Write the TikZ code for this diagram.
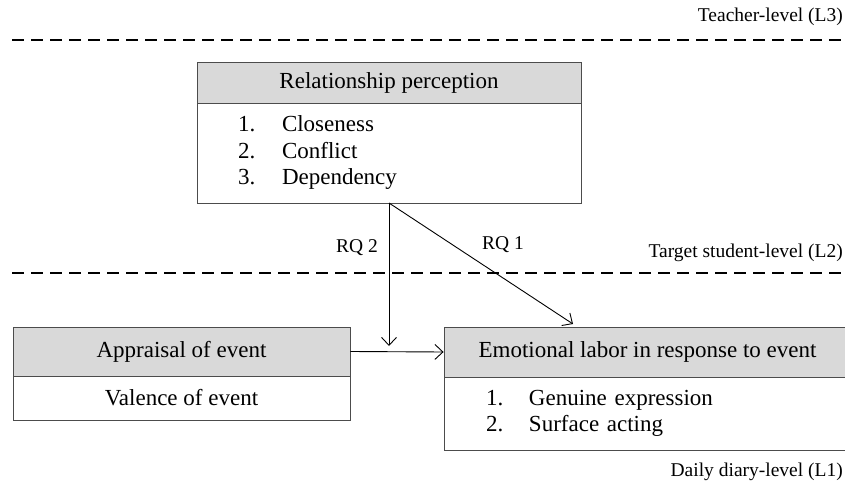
\documentclass[tikz,border=0pt]{standalone}
\usepackage{fontspec}
\setmainfont{Liberation Serif}
\usetikzlibrary{arrows.meta}
\begin{document}
\begin{tikzpicture}[x=1pt,y=-1pt,
  hdr/.style={draw=black!70,line width=0.9pt,fill=black!15,rectangle,inner sep=0pt,
    font=\fontsize{23}{26.5}\selectfont},
  bodybox/.style={draw=black!70,line width=0.9pt,fill=white,rectangle,inner sep=0pt,
    font=\fontsize{23}{26.5}\selectfont},
  lvl/.style={anchor=east,inner sep=0pt,font=\fontsize{19.5}{22}\selectfont},
  rq/.style={inner sep=0pt,font=\fontsize{19.5}{22}\selectfont},
  sep/.style={line width=1.3pt,dash pattern=on 12pt off 7pt},
  arr/.style={line width=0.9pt,-{Straight Barb[length=8pt,width=15pt]}}
]
\useasboundingbox (0,0) rectangle (845,494);
\clip (0,0) rectangle (845,494);

% level labels and separators
\node[lvl] (l3) at (843,17) {Teacher-level (L3)};
\draw[sep] (12,40) -- (845,40);
\node[lvl] (l2) at (843,253) {Target student-level (L2)};
\draw[sep] (12,273) -- (845,273);
\node[lvl] (l1) at (843,472) {Daily diary-level (L1)};

% Relationship perception
\node[hdr,minimum width=384pt,minimum height=41pt] (rpH) at (389,82.5) {Relationship perception};
\node[bodybox,minimum width=384pt,minimum height=100pt,text width=302pt,align=left,inner xsep=41pt] (rpB) at (389,153)
  {\makebox[44pt][l]{1.}Closeness\\\makebox[44pt][l]{2.}Conflict\\\makebox[44pt][l]{3.}Dependency};

% Appraisal of event
\node[hdr,minimum width=337pt,minimum height=49pt] (apH) at (181.5,351.5) {Appraisal of event};
\node[bodybox,minimum width=337pt,minimum height=44pt] (apB) at (181.5,398) {Valence of event};

% Emotional labor
\node[hdr,minimum width=407pt,minimum height=50pt] (elH) at (647.5,352) {Emotional labor in response to event};
\node[bodybox,minimum width=407pt,minimum height=73pt,text width=323pt,align=left,inner xsep=42pt] (elB) at (647.5,413.5)
  {\makebox[43pt][l]{1.}Genuine expression\\\makebox[43pt][l]{2.}Surface acting};

% connectors
\coordinate (src) at (389,203);
\coordinate (mod) at (389,346);
\coordinate (rq1end) at (573,324);
\draw[arr] (src) -- (mod);
\draw[arr] (src) -- (rq1end);
\draw[arr] (apH.east) -- (elH.west);

\node[rq] (rq2) at (357,248) {RQ 2};
\node[rq] (rq1) at (503,245) {RQ 1};
\end{tikzpicture}
\end{document}
